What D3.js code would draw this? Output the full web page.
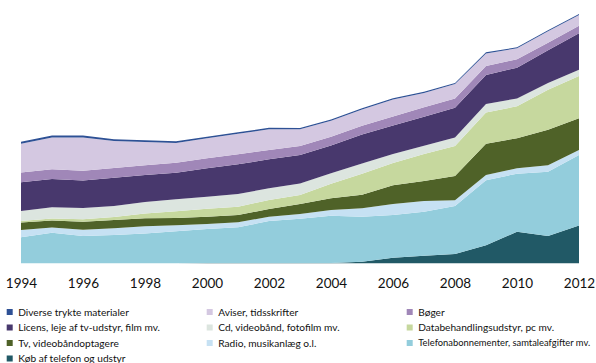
<!DOCTYPE html>
<html>
<head>
<meta charset="utf-8">
<script src="https://cdn.jsdelivr.net/npm/d3@7/dist/d3.min.js"></script>
<style>
  html, body { margin: 0; padding: 0; background: #ffffff; }
  svg { display: block; }
</style>
</head>
<body>
<svg id="chart" width="596" height="363"></svg>
<script>
// ---- Data (arbitrary units) ----
const years = [1994,1995,1996,1997,1998,1999,2000,2001,2002,2003,2004,2005,2006,2007,2008,2009,2010,2011,2012];
const tickYears = [1994,1996,1998,2000,2002,2004,2006,2008,2010,2012];

const kob        = [0,0,0,0,0,0,0.3,0.3,0.3,0.3,0.3,1.6,5.5,7.6,9.3,18,31.6,27.3,37.8];
const telefonab  = [26,30.6,27.3,28.3,29.8,32,34,35.7,42,44.3,47.3,45,42.8,44,48,65,58,64.3,70.5];
const radio      = [7.3,5.2,6.3,6.7,7.2,6,5,5,4.3,4.7,5.7,8.4,11,10.7,5.7,5.3,5.4,6.4,5];
const tv         = [7.5,7,8,8.3,8,7.3,7.3,7.3,7.7,10,11.7,13.6,18.8,20,24.3,31.3,30,35.6,31.7];
const databeh    = [1.5,2,2.4,3,4.8,6.7,8,8.3,9,9,14.6,21,22.2,27,30,31.2,32,40,42.3];
const cd         = [10,11.2,11.3,11,11.5,12,12,12.7,11.7,11.6,10.4,10.3,9,8.3,8.5,8.5,7.8,6.7,6.3];
const licens     = [28.7,28.3,27.5,28.3,27,26.6,28.4,29.7,29,28.3,27.9,29,28.5,29,29.7,29,30.8,32.7,36.4];
const boger      = [9.8,9.7,9.8,9.7,9.7,10,10,10,9.3,9,8.6,8.7,9,9.4,9.3,9,8.4,7.6,7.5];
const aviser     = [28.8,31.8,33.2,26.9,23.2,19.7,20,20.5,20.8,16.8,16.1,16.2,17,14.4,14.4,12.6,11,11.4,10.8];
const diverse    = [2,2,2,1.8,1.8,1.7,1.6,1.5,1.5,1.4,1.3,1.3,1.2,1.2,1.1,1.1,1,1,1];

// Stack order bottom -> top
const seriesKeys = ["kob","telefonab","radio","tv","databeh","cd","licens","boger","aviser","diverse"];
const seriesValues = {kob, telefonab, radio, tv, databeh, cd, licens, boger, aviser, diverse};
const seriesColors = {
  diverse:   "#2E5195",
  aviser:    "#D4C8E1",
  boger:     "#A087B8",
  licens:    "#48386D",
  cd:        "#DCE5DF",
  databeh:   "#C6D89E",
  tv:        "#4F6228",
  radio:     "#C6E1F3",
  telefonab: "#93CDDC",
  kob:       "#215966"
};
// Legend order (row-major, 3 columns)
const legendKeys = ["diverse","aviser","boger","licens","cd","databeh","tv","radio","telefonab","kob"];
const legendLabels = {
  diverse:   "Diverse trykte materialer",
  aviser:    "Aviser, tidsskrifter",
  boger:     "Bøger",
  licens:    "Licens, leje af tv-udstyr, film mv.",
  cd:        "Cd, videobånd, fotofilm mv.",
  databeh:   "Databehandlingsudstyr, pc mv.",
  tv:        "Tv, videobåndoptagere",
  radio:     "Radio, musikanlæg o.l.",
  telefonab: "Telefonabonnementer, samtaleafgifter mv.",
  kob:       "Køb af telefon og udstyr"
};

// ---- Build table ----
const table = years.map((yr, i) => {
  const row = {year: yr};
  seriesKeys.forEach(k => row[k] = seriesValues[k][i]);
  return row;
});

const svg = d3.select("#chart");
const x = d3.scaleLinear().domain([1994, 2012]).range([21, 579]);
const y = d3.scaleLinear().domain([0, 250]).range([263.3, 13.3]);

const stack = d3.stack().keys(seriesKeys);
const layers = stack(table);

const area = d3.area()
  .x(d => x(d.data.year))
  .y0(d => y(d[0]))
  .y1(d => y(d[1]))
  .curve(d3.curveLinear);

svg.append("g").selectAll("path")
  .data(layers)
  .join("path")
  .attr("d", area)
  .attr("fill", d => seriesColors[d.key]);

// ---- X axis ----
const xAxis = d3.axisBottom(x)
  .tickValues(tickYears)
  .tickFormat(d3.format("d"))
  .tickSize(0)
  .tickPadding(15);

const gx = svg.append("g")
  .attr("transform", "translate(0,263.3)")
  .call(xAxis);
gx.select(".domain").remove();
gx.selectAll("text")
  .attr("font-family", "Lato, 'Liberation Sans', Arial, sans-serif")
  .attr("font-size", "13.5px")
  .attr("fill", "#111");

// ---- Legend ----
const colX = [6.7, 206.7, 406.7];
const rowY = [312, 327.5, 343, 358.5];
const legendFont = "Lato, 'Liberation Sans', Arial, sans-serif";
const lg = svg.append("g");
const texts = [];
legendKeys.forEach((k, i) => {
  const c = i % 3, r = Math.floor(i / 3);
  const g = lg.append("g").attr("transform", `translate(${colX[c]},${rowY[r]})`);
  g.append("rect")
    .attr("x", 0).attr("y", -3)
    .attr("width", 6).attr("height", 6)
    .attr("fill", seriesColors[k]);
  const t = g.append("text")
    .attr("x", 11.5).attr("y", 0)
    .attr("dy", "0.35em")
    .attr("font-family", legendFont)
    .attr("font-size", "10.5px")
    .attr("fill", "#111")
    .text(legendLabels[k]);
  texts.push({t, c, k});
});
// fit font size so that the "Licens" label is ~142px wide like the reference
const ref = texts.find(o => o.k === "licens").t;
const w = ref.node().getComputedTextLength();
const fs = Math.max(8.5, Math.min(11.5, 10.5 * 142 / w));
texts.forEach(o => {
  o.t.attr("font-size", fs + "px");
  const len = o.t.node().getComputedTextLength();
  const maxLen = 590 - (colX[o.c] + 11.5);
  if (len > maxLen) {
    o.t.attr("font-size", (fs * maxLen / len) + "px");
  }
});
</script>
</body>
</html>
